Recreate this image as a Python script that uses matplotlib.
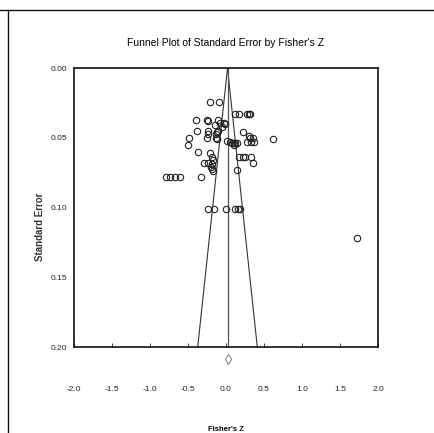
import numpy as np
import matplotlib
matplotlib.use("Agg")
import matplotlib.pyplot as plt
from matplotlib.lines import Line2D

plt.rcParams['font.family'] = ['Liberation Sans Narrow', 'Liberation Sans', 'DejaVu Sans']

# Study points: Fisher's Z and its standard error.
fisher_z = [-0.21, -0.09, 0.12, 0.17, 0.28, 0.30, 0.31,
            -0.39, -0.25, -0.24, -0.11, -0.08, -0.14, -0.03, -0.01, -0.05,
            -0.38, -0.24, -0.23, -0.12, -0.13, -0.10, 0.22,
            0.30, 0.32, 0.35, -0.49, -0.50, -0.25, -0.13, -0.12,
            0.01, 0.05, 0.08, 0.10, 0.12, 0.14, 0.11, 0.28, 0.33, 0.37, 0.62,
            -0.37, -0.21, -0.18, -0.17, -0.29, -0.24, -0.19, -0.18, -0.20, -0.17,
            0.17, 0.22, 0.25, 0.33, 0.35, 0.15, -0.33,
            -0.79, -0.73, -0.67, -0.61,
            -0.23, -0.16, 0.0, 0.12, 0.16, 0.18, 1.73]
std_err = [0.024, 0.024, 0.033, 0.033, 0.033, 0.033, 0.033,
           0.037, 0.037, 0.038, 0.037, 0.039, 0.041, 0.039, 0.040, 0.042,
           0.045, 0.045, 0.047, 0.046, 0.047, 0.045, 0.046,
           0.049, 0.050, 0.050, 0.050, 0.055, 0.050, 0.050, 0.051,
           0.052, 0.053, 0.054, 0.054, 0.054, 0.054, 0.055, 0.053, 0.053, 0.053, 0.051,
           0.060, 0.061, 0.064, 0.066, 0.068, 0.068, 0.069, 0.072, 0.071, 0.074,
           0.064, 0.064, 0.064, 0.064, 0.068, 0.073, 0.078,
           0.078, 0.078, 0.078, 0.078,
           0.101, 0.101, 0.101, 0.101, 0.101, 0.101, 0.122]

mean_z = 0.02  # pooled estimate (centre of the funnel)
se_max = 0.20

fig = plt.figure(figsize=(4.35, 4.33), dpi=100)
ax = fig.add_axes([0.170, 0.1986, 0.699, 0.644])

# funnel
se_line = np.array([0.0, se_max])
ax.plot(mean_z - 1.96*se_line, se_line, color='#333333', lw=0.8)
ax.plot(mean_z + 1.96*se_line, se_line, color='#333333', lw=0.8)
ax.plot([mean_z, mean_z], [0.0, se_max], color='#555555', lw=0.9)

ax.plot(fisher_z, std_err, 'o', ms=4.6, mfc='none', mec='#222222', mew=0.8, ls='none')

# summary marker under the axis
ax.plot([mean_z], [0.2085], marker='d', ms=5, mfc='none', mec='#777777', mew=0.7,
        clip_on=False)

ax.set_xlim(-2.0, 2.0)
ax.set_ylim(0.20, 0.0)
ax.set_xticks(np.arange(-2.0, 2.01, 0.5))
ax.set_xticklabels(['-2.0', '-1.5', '-1.0', '-0.5', '0.0', '0.5', '1.0', '1.5', '2.0'])
ax.set_yticks([0.0, 0.05, 0.10, 0.15, 0.20])
ax.set_yticklabels(['0.00', '0.05', '0.10', '0.15', '0.20'])
ax.tick_params(axis='x', direction='in', length=3, width=0.6, pad=28, labelsize=6, colors='#222222')
ax.tick_params(axis='y', length=0, pad=5, labelsize=6, colors='#222222')
for s in ax.spines.values():
    s.set_linewidth(1.2)
    s.set_color('#111111')

ax.set_title("Funnel Plot of Standard Error by Fisher's Z", fontsize=7.5, pad=16)
ax.set_xlabel("Fisher's Z", fontsize=5.5, fontweight='bold', labelpad=24)
ax.set_ylabel("Standard Error", fontsize=7, fontweight='bold', color='#333333')
ax.yaxis.set_label_coords(-0.095, 0.43)

# frame lines of the original screenshot
fig.add_artist(Line2D([0, 1], [1 - 10/433, 1 - 10/433], color='#111111', lw=1.0))
fig.add_artist(Line2D([8/435, 8/435], [0, 1 - 10/433], color='#111111', lw=1.0))

fig.savefig("out.png", dpi=100)
